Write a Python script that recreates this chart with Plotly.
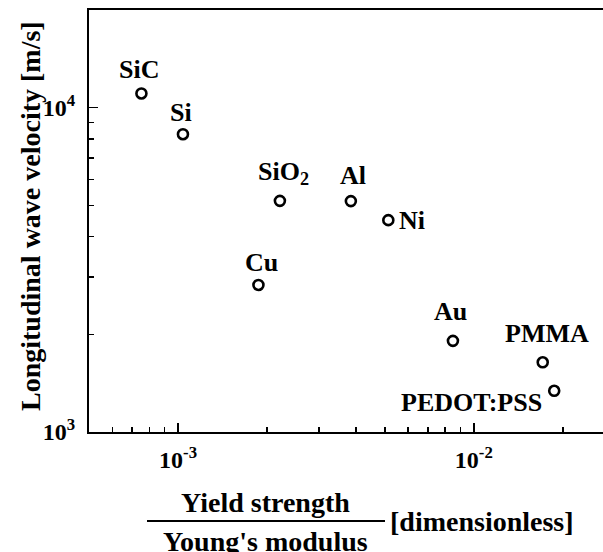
import math
import plotly.graph_objects as go

# ---- data ----
materials = ["SiC", "Si", "SiO<sub>2</sub>", "Al", "Ni", "Cu", "Au", "PMMA", "PEDOT:PSS"]
yield_over_modulus = [7.52e-4, 1.039e-3, 2.21e-3, 3.84e-3, 5.14e-3, 1.87e-3, 8.5e-3, 1.71e-2, 1.87e-2]
long_velocity = [11060, 8280, 5160, 5150, 4500, 2840, 1910, 1640, 1340]

x_tick_vals = [1e-3, 1e-2]
x_tick_text = ["10<sup>-3</sup>", "10<sup>-2</sup>"]
y_tick_vals = [1e3, 1e4]
y_tick_text = ["10<sup>3</sup>", "10<sup>4</sup>"]

# label placement (style): (xanchor, xshift, yshift)
label_pos = {
    "SiC": ("center", -2, 24),
    "Si": ("center", -2, 22),
    "SiO<sub>2</sub>": ("center", 4, 28),
    "Al": ("center", 2, 26),
    "Ni": ("left", 9, 0),
    "Cu": ("center", 3, 22),
    "Au": ("center", -2, 29),
    "PMMA": ("center", 4, 29),
    "PEDOT:PSS": ("right", -10, -12),
}

W, H = 603, 552
L, R, T, B = 89, 0, 10, 120
pw, ph = W - L - R, H - T - B


def px(xp):
    return (xp - L) / pw


def py(yp):
    return (H - B - yp) / ph


FONT = "Liberation Serif, Times New Roman, serif"
LBL = 26
TTL = 28

fig = go.Figure()
fig.add_trace(go.Scatter(
    x=yield_over_modulus, y=long_velocity, mode="markers",
    marker=dict(symbol="circle-open", size=10, color="black", line=dict(width=2.6, color="black")),
    showlegend=False, hoverinfo="skip",
))

annotations = []
for name, xv, yv in zip(materials, yield_over_modulus, long_velocity):
    xa, xs, ys = label_pos[name]
    annotations.append(dict(
        x=math.log10(xv), y=math.log10(yv), xref="x", yref="y", text=name,
        showarrow=False, xanchor=xa, yanchor="middle", xshift=xs, yshift=ys,
        font=dict(family=FONT, size=LBL, color="black", weight="bold"),
    ))

# axis titles
annotations.append(dict(
    x=px(30), y=py(216), xref="paper", yref="paper", text="Longitudinal wave velocity [m/s]",
    textangle=-90, showarrow=False, xanchor="center", yanchor="middle",
    font=dict(family=FONT, size=TTL, color="black", weight="bold"),
))
annotations.append(dict(
    x=px(265), y=py(503), xref="paper", yref="paper", text="Yield strength",
    showarrow=False, xanchor="center", yanchor="middle",
    font=dict(family=FONT, size=TTL, color="black", weight="bold"),
))
annotations.append(dict(
    x=px(265), y=py(541), xref="paper", yref="paper", text="Young's modulus",
    showarrow=False, xanchor="center", yanchor="middle",
    font=dict(family=FONT, size=TTL, color="black", weight="bold"),
))
annotations.append(dict(
    x=px(388), y=py(521), xref="paper", yref="paper", text="[dimensionless]",
    showarrow=False, xanchor="left", yanchor="middle",
    font=dict(family=FONT, size=TTL, color="black", weight="bold"),
))

fig.add_shape(type="line", xref="paper", yref="paper",
              x0=px(147), x1=px(385), y0=py(521), y1=py(521),
              line=dict(color="black", width=2))

x_minor = [m * 10.0 ** e for e in (-4, -3, -2) for m in range(2, 10)]
y_minor = [m * 10.0 ** e for e in (3, 4) for m in range(2, 10)]

fig.update_xaxes(
    type="log", range=[math.log10(5e-4), -1.5632],
    showline=True, linecolor="black", linewidth=2, mirror=True,
    showgrid=False, zeroline=False,
    ticks="inside", ticklen=9, tickwidth=1.5, tickcolor="black",
    tickvals=x_tick_vals, ticktext=x_tick_text,
    tickfont=dict(family=FONT, size=24, color="black", weight="bold"),
    ticklabelstandoff=5,
    minor=dict(tickvals=x_minor, ticks="inside", ticklen=5, tickwidth=1.5, tickcolor="black", showgrid=False),
)
fig.update_yaxes(
    type="log", range=[3, math.log10(20000)],
    showline=True, linecolor="black", linewidth=2, mirror=False,
    showgrid=False, zeroline=False,
    ticks="inside", ticklen=9, tickwidth=1.5, tickcolor="black",
    tickvals=y_tick_vals, ticktext=y_tick_text,
    tickfont=dict(family=FONT, size=24, color="black", weight="bold"),
    ticklabelstandoff=7,
    minor=dict(tickvals=y_minor, ticks="inside", ticklen=5, tickwidth=1.5, tickcolor="black", showgrid=False),
)

fig.update_layout(
    width=W, height=H,
    margin=dict(l=L, r=R, t=T, b=B, pad=0, autoexpand=False),
    paper_bgcolor="white", plot_bgcolor="white",
    annotations=annotations,
    showlegend=False,
)

fig.write_html(
    "out.html",
    config={"displayModeBar": False, "staticPlot": True},
    post_script="document.body.style.margin='0';document.body.style.overflow='hidden';",
)
